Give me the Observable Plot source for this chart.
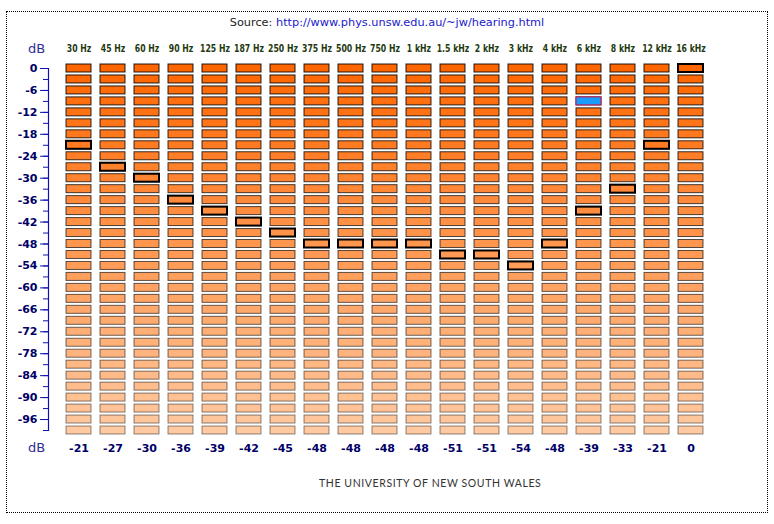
<!DOCTYPE html>
<html><head><meta charset="utf-8">
<script src="https://cdn.jsdelivr.net/npm/d3@7"></script>
<script src="https://cdn.jsdelivr.net/npm/@observablehq/plot@0.6"></script>
<style>
body{margin:0;background:#fff;}
#wrap{position:relative;width:774px;height:524px;overflow:hidden;background:#fff;}
#frame{position:absolute;left:6px;top:11px;width:762px;height:502px;border:1px dotted #000;box-sizing:border-box;pointer-events:none;}
#chart{position:absolute;left:0;top:0;}
#source{position:absolute;left:0;width:774px;top:16px;text-align:center;font-family:"DejaVu Sans",Verdana,sans-serif;font-size:11.3px;color:#222;}
#source a{color:#1a1acc;text-decoration:none;}
#footer{position:absolute;left:319px;top:477px;font-family:Lato,"Open Sans",sans-serif;font-size:10.5px;letter-spacing:0.6px;color:#333;white-space:nowrap;}
</style>
</head><body>
<div id="wrap">
  <div id="chart"></div>
  <div id="source">Source: <a href="http://www.phys.unsw.edu.au/~jw/hearing.html">http://www.phys.unsw.edu.au/~jw/hearing.html</a></div>
  <div id="footer">THE UNIVERSITY OF NEW SOUTH WALES</div>
  <div id="frame"></div>
</div>
<script>
// ---- data ----
const frequencies = ["30 Hz","45 Hz","60 Hz","90 Hz","125 Hz","187 Hz","250 Hz","375 Hz","500 Hz","750 Hz","1 kHz","1.5 kHz","2 kHz","3 kHz","4 kHz","6 kHz","8 kHz","12 kHz","16 kHz"];
const thresholds = [-21,-27,-30,-36,-39,-42,-45,-48,-48,-48,-48,-51,-51,-54,-48,-39,-33,-21,0];
const levels = [0,-3,-6,-9,-12,-15,-18,-21,-24,-27,-30,-33,-36,-39,-42,-45,-48,-51,-54,-57,-60,-63,-66,-69,-72,-75,-78,-81,-84,-87,-90,-93,-96,-99];
const yTickLabels = [0,-6,-12,-18,-24,-30,-36,-42,-48,-54,-60,-66,-72,-78,-84,-90,-96];
const markerFreq = "6 kHz";
const markerLevel = -9;

const cells = frequencies.flatMap(f => levels.map(l => ({freq: f, level: l})));
const picks = frequencies.map((f, i) => ({freq: f, level: thresholds[i]}));
const marker = [{freq: markerFreq, level: markerLevel}];

const cellOpts = {x: "freq", y1: "level", y2: "level", insetTop: -4, insetBottom: -4};
const headerColor = "#1f3a10";

const chart = Plot.plot({
  width: 774, height: 524,
  marginTop: 68, marginBottom: 94, marginLeft: 48, marginRight: 52,
  style: {fontFamily: "DejaVu Sans, Verdana, sans-serif", background: "transparent"},
  x: {type: "band", domain: frequencies, padding: 9/35, axis: null},
  y: {domain: [-99, 0], axis: null},
  color: {type: "linear", domain: [-99, 0], range: ["#ffc9a1", "#ff6600"], interpolate: "rgb"},
  opacity: {domain: [-99, 0], range: [0.45, 0.88]},
  marks: [
    Plot.barY(cells, {...cellOpts, fill: "level", stroke: "#000", strokeOpacity: "level", strokeWidth: 1}),
    Plot.barY(picks, {...cellOpts, fill: "none", stroke: "#000", strokeWidth: 2}),
    Plot.barY(marker, {...cellOpts, fill: "#1a9cff", stroke: "#cc1150", strokeWidth: 1}),
    Plot.frame({anchor: "left", stroke: "#1010b0", strokeWidth: 1.2}),
    Plot.axisY({ticks: levels, tickSize: 5, tickFormat: () => "", stroke: "#1010b0", label: null}),
    Plot.axisY({ticks: yTickLabels, tickSize: 8, tickPadding: 3, tickFormat: d => String(d),
      stroke: "#1010b0", fill: "#000066", fontWeight: "bold", fontSize: 11, label: null}),
    Plot.text(frequencies, {x: d => d, text: d => d, frameAnchor: "top", lineAnchor: "middle", dy: -20,
      fontFamily: "DejaVu Sans, sans-serif", fontWeight: "bold", fontSize: 10.5, fill: headerColor}),
    Plot.text(thresholds, {x: (d, i) => frequencies[i], text: d => String(d), frameAnchor: "bottom", lineAnchor: "middle", dy: 18,
      fontWeight: "bold", fontSize: 11, fill: "#000066"}),
    Plot.text(["dB"], {text: d => d, frameAnchor: "top-left", lineAnchor: "middle", textAnchor: "middle", dx: -12, dy: -20, fontSize: 13, fill: "#2e2e96"}),
    Plot.text(["dB"], {text: d => d, frameAnchor: "bottom-left", lineAnchor: "middle", textAnchor: "middle", dx: -12, dy: 17, fontSize: 13, fill: "#2e2e96"})
  ]
});

// condense the frequency header labels horizontally
d3.select(chart).selectAll("g").filter(function() { return this.getAttribute("fill") === headerColor; })
  .selectAll("text").each(function() {
    const t = this.getAttribute("transform");
    if (t) {
      this.setAttribute("transform", t + " scale(0.74,1)");
    } else {
      const x = +this.getAttribute("x") || 0, y = +this.getAttribute("y") || 0;
      this.removeAttribute("x"); this.removeAttribute("y");
      this.setAttribute("transform", `translate(${x},${y}) scale(0.74,1)`);
    }
  });

document.getElementById("chart").appendChild(chart);
</script>
</body></html>
